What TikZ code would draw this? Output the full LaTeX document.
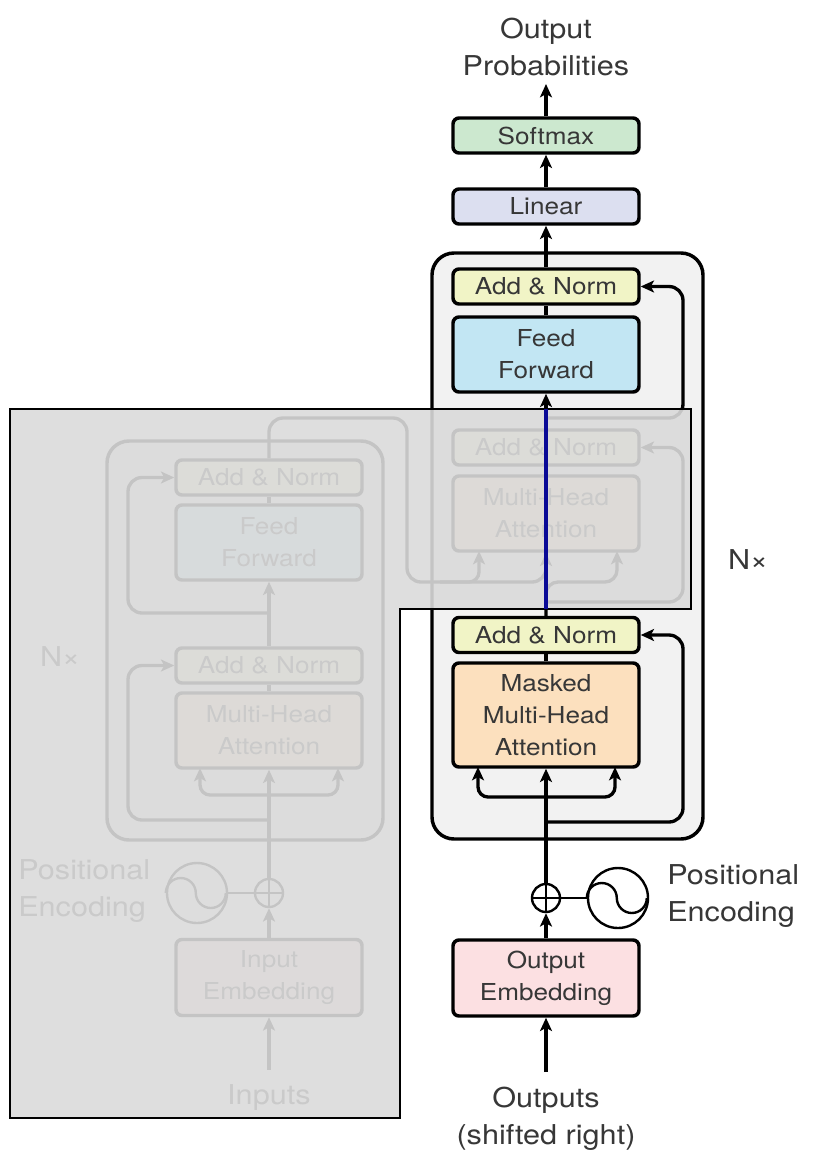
\documentclass[tikz,border=0pt]{standalone}
\usepackage{fontspec}
\setmainfont{TeX Gyre Heros}[FakeStretch=1.12]
\usetikzlibrary{arrows.meta}
\definecolor{txt}{RGB}{55,55,55}
\definecolor{anfill}{RGB}{241,244,198}
\definecolor{fffill}{RGB}{194,230,243}
\definecolor{mhafill}{RGB}{252,224,190}
\definecolor{embfill}{RGB}{252,224,226}
\definecolor{linfill}{RGB}{220,223,240}
\definecolor{smfill}{RGB}{204,232,207}
\definecolor{boxgray}{RGB}{242,242,242}
\definecolor{ovl}{RGB}{218,218,218}
\definecolor{navyline}{RGB}{10,10,150}
\newcommand{\boxfont}{\fontsize{17.5}{24}\selectfont}
\newcommand{\lblfont}{\fontsize{20.5}{27.75}\selectfont}
\begin{document}
\begin{tikzpicture}[x=0.75pt,y=-0.75pt,
  box/.style={draw=black, line width=2.6pt, rounded corners=4.5pt, minimum width=139.5pt, inner sep=0pt, align=center, text=txt, font=\boxfont},
  an/.style={box, fill=anfill, minimum height=26.25pt},
  ffbox/.style={box, fill=fffill, minimum height=56.25pt},
  mhabox/.style={box, fill=mhafill, minimum height=56.25pt},
  embbox/.style={box, fill=embfill, minimum height=57pt},
  container/.style={draw=black, line width=2.6pt, fill=boxgray, rounded corners=16.5pt, inner sep=0pt},
  conn/.style={line width=2.5pt, draw=black},
  arr/.style={conn, -{Stealth[length=10pt, width=9pt, inset=2.5pt]}},
  tarr/.style={conn, {Stealth[length=10pt, width=9pt, inset=2.5pt]}-{Stealth[length=10pt, width=9pt, inset=2.5pt]}},
  lbl/.style={font=\lblfont, text=txt, align=center, inner sep=0pt},
  circ/.style={draw=black, line width=1.8pt, circle, inner sep=0pt, fill=white},
]
\useasboundingbox (0,0) rectangle (819,1165);

% ---------------- Encoder (to be covered) ----------------
\node[container, minimum width=207pt, minimum height=299.25pt] (encbox) at (245,640.5) {};
\node[an] (ean2) at (269,477.5) {Add \& Norm};
\node[ffbox] (eff) at (269,542.5) {Feed\\Forward};
\node[an] (ean1) at (269,665.5) {Add \& Norm};
\node[mhabox] (emha) at (269,730.5) {Multi-Head\\Attention};
\node[embbox] (iemb) at (269,977.5) {Input\\Embedding};
\node[circ, minimum size=21pt] (eplus) at (269,893) {};
\node[circ, minimum size=45pt] (esine) at (197,893) {};
\node[lbl, align=left, anchor=west] (epos) at (18,891) {Positional\\Encoding};
\node[lbl] (inputs) at (269,1098) {Inputs};
\node[lbl] (enx) at (60,657) {N×};
\coordinate (ein) at (269,1070);

\draw[line width=1.8pt] (eplus.north) -- (eplus.south) (eplus.west) -- (eplus.east);
\draw[line width=1.8pt] (esine.west) arc[start angle=180, end angle=0, radius=11.25pt] arc[start angle=180, end angle=360, radius=11.25pt];
\draw[line width=1.8pt] (esine.east) -- (eplus.west);
\draw[arr] (ein) -- (iemb.south);
\draw[arr] (iemb.north) -- (eplus.south);
\draw[arr] (eplus.north) -- (emha.south);
\draw[tarr, rounded corners=7.5pt] (200,768) -- (200,795) -- (338,795) -- (338,768);
\draw[arr, rounded corners=10.5pt] (269,820) -| (128,665.5) -- (ean1.west);
\draw[conn] (emha.north) -- (ean1.south);
\draw[arr] (ean1.north) -- (eff.south);
\draw[arr, rounded corners=10.5pt] (269,613) -| (128,477.5) -- (ean2.west);
\draw[conn] (eff.north) -- (ean2.south);

% ---------------- Decoder ----------------
\node[container, minimum width=203.25pt, minimum height=439.5pt] (decbox) at (567.5,546) {};
\node[box, fill=smfill, minimum height=26.25pt] (softmax) at (546,135.5) {Softmax};
\node[box, fill=linfill, minimum height=26.25pt] (linear) at (546,206.5) {Linear};
\node[an] (dan3) at (546,286.5) {Add \& Norm};
\node[ffbox] (dff) at (546,354.5) {Feed\\Forward};
\node[an] (dan2) at (546,447.5) {Add \& Norm};
\node[mhabox] (dmha2) at (546,513.5) {Multi-Head\\Attention};
\node[an] (dan1) at (546,635) {Add \& Norm};
\node[box, fill=mhafill, minimum height=78pt] (dmmha) at (546,715) {Masked\\Multi-Head\\Attention};
\node[embbox] (oemb) at (546,978) {Output\\Embedding};
\node[circ, minimum size=21pt] (dplus) at (546,898) {};
\node[circ, minimum size=45pt] (dsine) at (618,898) {};
\node[lbl, align=left, anchor=west] (dpos) at (667,896) {Positional\\Encoding};
\node[lbl] (outs) at (546,1118.5) {Outputs\\(shifted right)};
\node[lbl] (oprob) at (546,46.5) {Output\\Probabilities};
\node[lbl] (dnx) at (748,560) {N×};
\coordinate (din) at (546,1072);
\coordinate (dout) at (546,84);

\draw[line width=1.8pt] (dplus.north) -- (dplus.south) (dplus.west) -- (dplus.east);
\draw[line width=1.8pt] (dsine.west) arc[start angle=180, end angle=0, radius=11.25pt] arc[start angle=180, end angle=360, radius=11.25pt];
\draw[line width=1.8pt] (dplus.east) -- (dsine.west);
\draw[arr] (din) -- (oemb.south);
\draw[arr] (oemb.north) -- (dplus.south);
\draw[arr] (dplus.north) -- (dmmha.south);
\draw[tarr, rounded corners=7.5pt] (478,767) -- (478,797) -- (615,797) -- (615,767);
\draw[arr, rounded corners=10.5pt] (546,822) -| (683,635) -- (dan1.east);
\draw[conn] (dmmha.north) -- (dan1.south);
% cross attention inputs
\draw[arr, rounded corners=9pt] (dan1.north) -- (546,582) -- (617,582) -- (617,551);
\draw[arr, rounded corners=10.5pt] (546,602) -| (683,447.5) -- (dan2.east);
\draw[arr, rounded corners=10.5pt] (ean2.north) -- (269,418) -- (407,418) -- (407,582) -- (546,582) -- (dmha2.south);
\draw[arr, rounded corners=7.5pt] (440,582) -| (479,551);
\draw[conn] (dmha2.north) -- (dan2.south);
\draw[arr] (dan2.north) -- (dff.south);
\draw[arr, rounded corners=10.5pt] (546,418) -| (683,286.5) -- (dan3.east);
\draw[conn] (dff.north) -- (dan3.south);
\draw[arr] (dan3.north) -- (linear.south);
\draw[arr] (linear.north) -- (softmax.south);
\draw[arr] (softmax.north) -- (dout);

% ---------------- Overlay ----------------
\fill[ovl, opacity=0.9] (10,409) -- (691,409) -- (691,609) -- (400,609) -- (400,1118) -- (10,1118) -- cycle;
\draw[line width=2.1pt, line join=miter] (10,409) -- (691,409) -- (691,609) -- (400,609) -- (400,1118) -- (10,1118) -- cycle;
\coordinate (bt) at (546,409);
\coordinate (bb) at (546,609);
\draw[navyline, line width=2.4pt] (bb) -- (bt);
\end{tikzpicture}
\end{document}
